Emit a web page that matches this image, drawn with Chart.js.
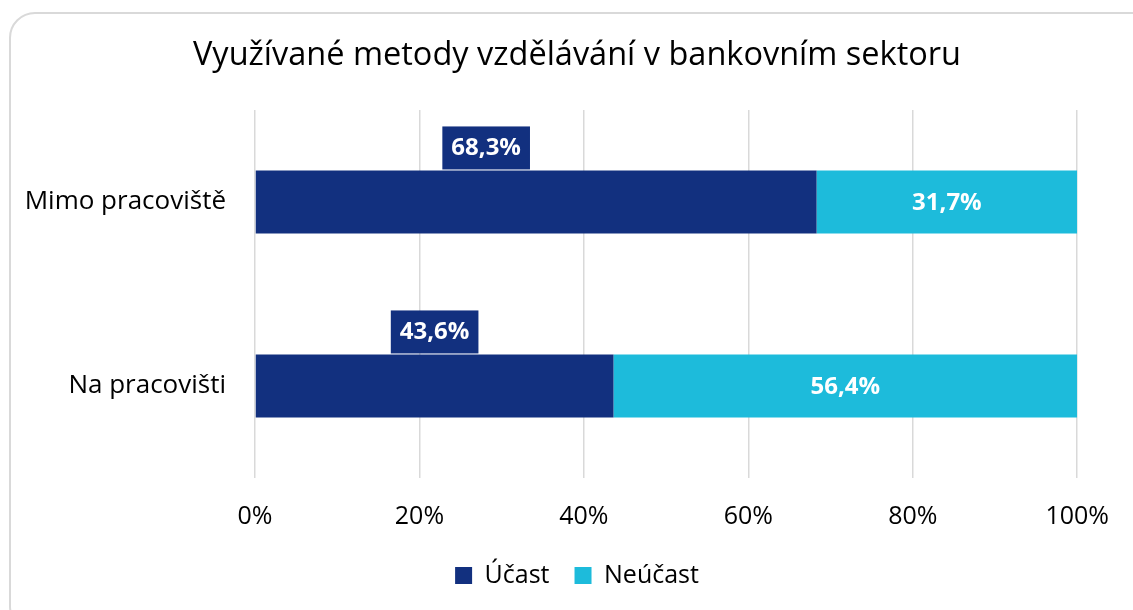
<!DOCTYPE html>
<html lang="cs">
<head>
<meta charset="utf-8">
<title>Využívané metody vzdělávání v bankovním sektoru</title>
<script src="https://cdn.jsdelivr.net/npm/chart.js@4.4.1/dist/chart.umd.min.js"></script>
<style>
  html, body { margin: 0; padding: 0; background: #fff; }
  #wrap { position: relative; width: 1133px; height: 610px; overflow: hidden; }
  #frame {
    position: absolute; left: 9px; top: 12px;
    width: 1150px; height: 620px;
    border: 2px solid #d9d9d9; border-radius: 26px;
    box-sizing: border-box;
  }
  #chart { position: absolute; left: 0; top: 0; }
</style>
</head>
<body>
<div id="wrap">
  <div id="frame"></div>
  <canvas id="chart" width="1133" height="610"></canvas>
</div>
<script>
'use strict';

// ── DATA ─────────────────────────────────────────────────────

const CATEGORIES = ['Mimo pracoviště', 'Na pracovišti'];
const UCAST      = [68.3, 43.6];
const NEUCAST    = [31.7, 56.4];
const X_TICKS    = [0, 20, 40, 60, 80, 100];

const DARK  = '#12307f';
const CYAN  = '#1dbbdb';
const FONT  = "'Open Sans', 'Noto Sans', sans-serif";

const fmt = v => v.toFixed(1).replace('.', ',') + '%';

// ── LABEL PLUGIN ─────────────────────────────────────────────

const barLabels = {
  id: 'barLabels',
  afterDatasetsDraw(chart, args, opts) {
    const ctx = chart.ctx;
    ctx.save();
    ctx.font = `bold ${opts.size}px ${FONT}`;
    ctx.textAlign = 'center';
    ctx.textBaseline = 'middle';

    // Účast: boxed label above the bar
    chart.getDatasetMeta(0).data.forEach((bar, i) => {
      const txt = fmt(chart.data.datasets[0].data[i]);
      const cx = (bar.base + bar.x) / 2 + (opts.nudgeX[i] || 0);
      const top = bar.y - bar.height / 2;
      const w = ctx.measureText(txt).width + 18;
      const h = 43;
      ctx.fillStyle = DARK;
      ctx.fillRect(cx - w / 2, top - h - 1, w, h);
      ctx.fillStyle = '#fff';
      ctx.fillText(txt, cx, top - h / 2 - 1);
    });

    // Neúčast: white text inside the bar
    chart.getDatasetMeta(1).data.forEach((bar, i) => {
      const txt = fmt(chart.data.datasets[1].data[i]);
      ctx.fillStyle = '#fff';
      ctx.fillText(txt, (bar.base + bar.x) / 2, bar.y + 1);
    });
    ctx.restore();
  }
};

// ── CHART ────────────────────────────────────────────────────

Chart.defaults.font.family = FONT;
Chart.defaults.color = '#000';

new Chart(document.getElementById('chart'), {
  type: 'bar',
  data: {
    labels: CATEGORIES,
    datasets: [
      { label: 'Účast',   data: UCAST,   backgroundColor: DARK },
      { label: 'Neúčast', data: NEUCAST, backgroundColor: CYAN }
    ]
  },
  options: {
    indexAxis: 'y',
    responsive: false,
    animation: false,
    devicePixelRatio: 1,
    categoryPercentage: 1,
    barPercentage: 0.343,
    layout: { padding: { left: 70, right: 49, top: 0, bottom: 12 } },
    plugins: {
      title: {
        display: true,
        text: 'Využívané metody vzdělávání v bankovním sektoru',
        color: '#000',
        font: { size: 32.5, weight: 'normal' },
        padding: { top: 36, bottom: 35 }
      },
      legend: {
        position: 'bottom',
        labels: {
          boxWidth: 17,
          boxHeight: 17,
          padding: 25,
          color: '#000',
          font: { size: 25 }
        }
      },
      tooltip: { enabled: false },
      barLabels: { size: 24, nudgeX: [-50, 0] }
    },
    scales: {
      x: {
        stacked: true,
        min: 0,
        max: 100,
        afterBuildTicks: axis => { axis.ticks = X_TICKS.map(v => ({ value: v })); },
        afterFit: axis => { axis.height -= 18; },
        grid: { color: '#d9d9d9', lineWidth: 1.5, drawTicks: false },
        border: { display: false },
        ticks: { padding: 24, font: { size: 25 }, callback: v => v + '%' }
      },
      y: {
        stacked: true,
        grid: { display: false, drawTicks: false },
        border: { display: false },
        afterFit: axis => {
          axis.width = 185;
          // let the category names run past the narrow axis box
          axis._computeLabelArea = () => undefined;
        },
        ticks: { padding: 29, font: { size: 26 } }
      }
    }
  },
  plugins: [barLabels]
});
</script>
</body>
</html>
